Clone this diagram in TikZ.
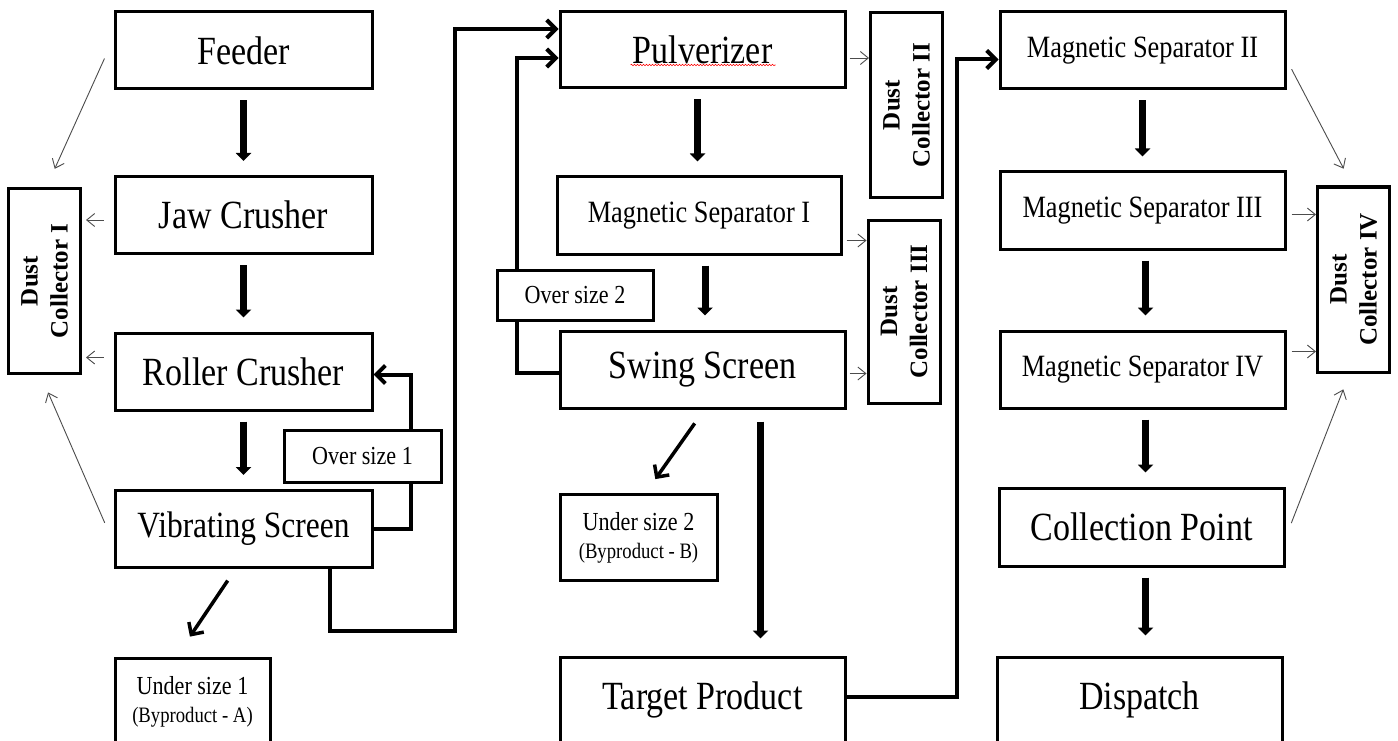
\documentclass[tikz,border=0pt]{standalone}
\usepackage{fontspec}
\setmainfont{Liberation Serif}[FakeStretch=0.85]
\newfontfamily\dustfont{Liberation Serif}
\usetikzlibrary{arrows.meta}
\usetikzlibrary{backgrounds}
\usetikzlibrary{decorations.pathmorphing}

\begin{document}
\begin{tikzpicture}[x=1pt,y=-1pt,
        box/.style={draw, line width=3pt, fill=white, inner sep=0pt, align=center, minimum height=77pt},
        bigtext/.style={box, font=\fontsize{40}{44}\selectfont},
        midtext/.style={box, font=\fontsize{31}{34}\selectfont},
        smalltext/.style={box, font=\fontsize{26}{28}\selectfont},
        dust/.style={box, rotate=90, minimum width=185pt, minimum height=72pt,
            font=\dustfont\bfseries\fontsize{25}{30}\selectfont},
        flow/.style={line width=7pt, -{Triangle[width=15pt,length=8pt]}, shorten <=10pt, shorten >=14pt},
        back/.style={line width=4pt, -{Straight Barb[length=9pt,width=18pt]}},
        byline/.style={line width=3.5pt, -{Straight Barb[length=9pt,width=18pt]}},
        dustline/.style={draw=black!70, line width=0.9pt, -{Straight Barb[length=8pt,width=13pt]}}]
    \useasboundingbox (0,0) rectangle (1398,741);

    \node[bigtext, minimum width=257pt] (feeder) at (243.5,50.5) {Feeder};
    \node[bigtext, minimum width=257pt] (jaw) at (243.5,215) {Jaw Crusher};
    \node[bigtext, minimum width=257pt] (roller) at (243.5,371.5) {Roller Crusher};
    \node[bigtext, minimum width=257pt, font=\fontsize{37}{42}\selectfont] (vib) at (243.5,529) {Vibrating Screen};
    \node[smalltext, minimum width=157pt, minimum height=52pt] (over1) at (362.5,456) {Over size 1};
    \node[smalltext, minimum width=155pt, minimum height=88pt] (under1) at (192.5,702)
        {Under size 1\\{\fontsize{22}{26}\selectfont(Byproduct - A)}};
    \node[dust] (dc1) at (44.5,281) {Dust\\Collector I};

    \node[bigtext, minimum width=285pt, minimum height=76pt] (pulv) at (702.5,50) {Pulverizer};
    \node[midtext, minimum width=284pt] (ms1) at (699,215.5) {Magnetic Separator I};
    \node[smalltext, minimum width=156pt, minimum height=50pt] (over2) at (575,295) {Over size 2};
    \node[bigtext, minimum width=285pt] (swing) at (702.5,369.5) {Swing Screen};
    \node[smalltext, minimum width=157pt, minimum height=86pt] (under2) at (638.5,537.5)
        {Under size 2\\{\fontsize{22}{26}\selectfont(Byproduct - B)}};
    \node[bigtext, minimum width=285pt, minimum height=86pt] (target) at (702.5,700) {Target Product};
    \node[dust] (dc2) at (906.5,105) {Dust\\Collector II};
    \node[dust, minimum width=183pt] (dc3) at (904,311.5) {Dust\\Collector III};

    \node[midtext, minimum width=285pt] (ms2) at (1142.5,50.5) {Magnetic Separator II};
    \node[midtext, minimum width=285pt] (ms3) at (1142.5,210.5) {Magnetic Separator III};
    \node[midtext, minimum width=285pt] (ms4) at (1142.5,369.5) {Magnetic Separator IV};
    \node[bigtext, minimum width=285pt, minimum height=78pt] (cp) at (1141.5,527) {Collection Point};
    \node[bigtext, minimum width=285pt, minimum height=86pt] (disp) at (1139.5,700) {Dispatch};
    \node[dust] (dc4) at (1353.5,279.5) {Dust\\Collector IV};

    \draw[red, line width=0.6pt, decorate, decoration={snake, amplitude=0.7pt, segment length=3pt}]
        ([xshift=-72pt,yshift=-15pt]pulv.center) -- ([xshift=73pt,yshift=-15pt]pulv.center);

    \draw[flow] (feeder) -- (jaw);
    \draw[flow] (jaw) -- (roller);
    \draw[flow] (roller) -- (vib);
    \draw[flow] ([xshift=-5pt]pulv.south) -- ([xshift=-5pt]pulv.south |- ms1.north);
    \draw[flow] ([xshift=6pt]ms1.south) -- ([xshift=6pt]ms1.south |- swing.north);
    \draw[flow, shorten <=12pt, shorten >=17pt] ([xshift=58pt]swing.south) -- ([xshift=58pt]swing.south |- target.north);
    \draw[flow] (ms2.south) -- (ms2.south |- ms3.north);
    \draw[flow] ([xshift=3pt]ms3.south) -- ([xshift=3pt]ms3.south |- ms4.north);
    \draw[flow] ([xshift=3pt]ms4.south) -- ([xshift=3pt]ms4.south |- cp.north);
    \draw[flow, shorten >=20pt] ([xshift=4pt]cp.south) -- ([xshift=4pt]cp.south |- disp.north);

    \draw[byline, shorten <=14pt, shorten >=24pt] ([xshift=-8pt]vib.south) -- ([xshift=-16pt]under1.north);
    \draw[byline, shorten <=17pt, shorten >=17pt] ([xshift=2pt]swing.south) -- ([xshift=7pt]under2.north);

    \begin{scope}[on background layer]
        \fill[white] (0,0) rectangle (1398,741);
        \draw[back] (vib.east) -| ([xshift=48pt]over1.center) |- ([yshift=-3pt]roller.east);
        \draw[back] ([xshift=86pt]vib.south) -- ++(0,62) -- ++(125,0) |- ([yshift=21pt]pulv.west);
        \draw[back] ([yshift=-3pt]swing.west) -| ([xshift=-58pt]over2.center) |- ([yshift=-8pt]pulv.west);
        \draw[back] ([yshift=3pt]target.east) -- ++(110,0) |- ([yshift=-9pt]ms2.west);
    \end{scope}

    \draw[dustline, shorten <=22pt, shorten >=20pt] ([yshift=12pt]feeder.west) -- ([xshift=2pt]dc1.east);
    \draw[dustline, shorten <=10pt, shorten >=4pt] ([yshift=-5pt]jaw.west) -- ([yshift=-5pt]jaw.west -| dc1.south);
    \draw[dustline, shorten <=10pt, shorten >=4pt] ([yshift=14pt]roller.west) -- ([yshift=14pt]roller.west -| dc1.south);
    \draw[dustline, shorten <=22pt, shorten >=19pt] ([yshift=-14pt]vib.west) -- ([xshift=-4pt]dc1.west);
    \draw[dustline, shorten <=3pt] ([yshift=-8pt]pulv.east) -- ([yshift=-8pt]pulv.east -| dc2.north);
    \draw[dustline, shorten <=4pt] ([yshift=-25pt]ms1.east) -- ([yshift=-25pt]ms1.east -| dc3.north);
    \draw[dustline, shorten <=3pt] ([yshift=-4pt]swing.east) -- ([yshift=-4pt]swing.east -| dc3.north);
    \draw[dustline, shorten <=11pt, shorten >=19pt] ([yshift=-9pt]ms2.east) -- ([xshift=-1pt]dc4.east);
    \draw[dustline, shorten <=5pt] ([yshift=-4pt]ms3.east) -- ([yshift=-4pt]ms3.east -| dc4.north);
    \draw[dustline, shorten <=5pt] ([yshift=18pt]ms4.east) -- ([yshift=18pt]ms4.east -| dc4.north);
    \draw[dustline, shorten <=16pt, shorten >=17pt] ([yshift=-11pt]cp.east) -- ([xshift=-4pt]dc4.west);
\end{tikzpicture}
\end{document}
